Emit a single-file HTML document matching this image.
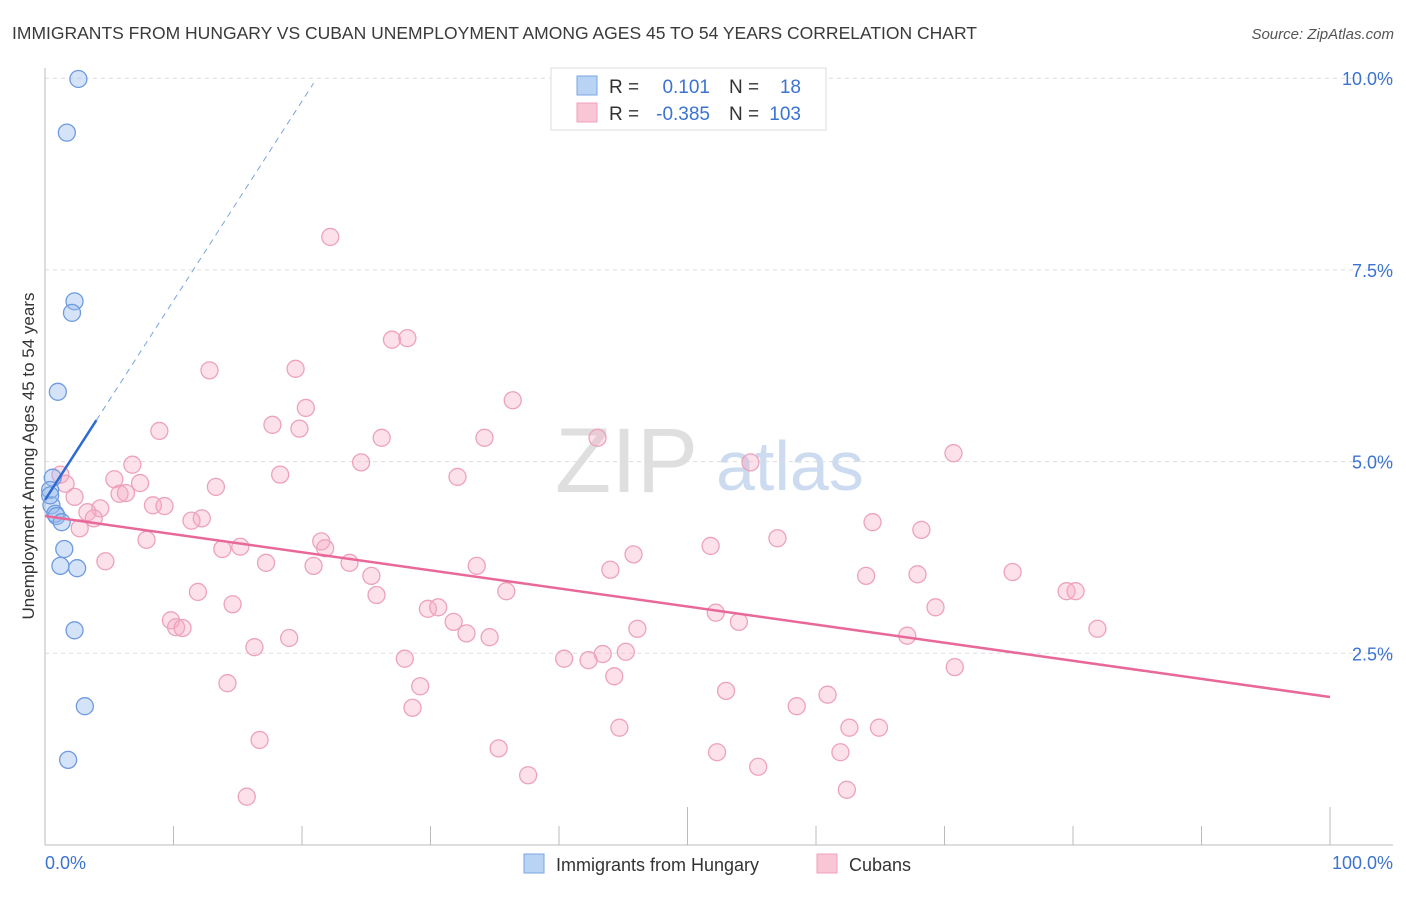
<!DOCTYPE html>
<html><head><meta charset="utf-8"><style>
body{margin:0;background:#fff;font-family:"Liberation Sans",sans-serif;}
svg text{font-family:"Liberation Sans",sans-serif;}
</style></head><body>
<svg width="1406" height="892" viewBox="0 0 1406 892" xmlns="http://www.w3.org/2000/svg" id="chart">
<text x="12" y="39" font-size="17.5" fill="#3a3a3a">IMMIGRANTS FROM HUNGARY VS CUBAN UNEMPLOYMENT AMONG AGES 45 TO 54 YEARS CORRELATION CHART</text>
<text x="1394" y="39" font-size="15" fill="#555" font-style="italic" text-anchor="end">Source: ZipAtlas.com</text>
<text x="555" y="492" font-size="92" font-family="Liberation Serif" fill="#d8d8d8" opacity="0.8">ZIP</text>
<text x="716" y="490" font-size="70" fill="#b8cdec" opacity="0.7">atlas</text>
<text transform="translate(34,456) rotate(-90)" font-size="17" fill="#333" text-anchor="middle">Unemployment Among Ages 45 to 54 years</text>
<g id="grid"></g><g id="axes"></g><g id="marks"></g>
<g>
<rect x="551" y="68" width="275" height="62" fill="#fff" stroke="#ddd"/>
<rect x="577" y="76" width="20" height="19" fill="#b9d3f5" stroke="#7aa6e3"/>
<rect x="577" y="103" width="20" height="19" fill="#f9c6d5" stroke="#eea0b8"/>
<text x="609" y="93" font-size="19" fill="#333">R =</text>
<text x="710" y="93" font-size="19" fill="#3b73d1" text-anchor="end">0.101</text>
<text x="729" y="93" font-size="19" fill="#333">N =</text>
<text x="801" y="93" font-size="19" fill="#3b73d1" text-anchor="end">18</text>
<text x="609" y="120" font-size="19" fill="#333">R =</text>
<text x="710" y="120" font-size="19" fill="#3b73d1" text-anchor="end">-0.385</text>
<text x="729" y="120" font-size="19" fill="#333">N =</text>
<text x="801" y="120" font-size="19" fill="#3b73d1" text-anchor="end">103</text>
</g>
<g>
<rect x="524" y="854" width="20" height="19" fill="#b9d3f5" stroke="#7aa6e3"/>
<text x="556" y="871" font-size="18" fill="#333">Immigrants from Hungary</text>
<rect x="817" y="854" width="20" height="19" fill="#f9c6d5" stroke="#eea0b8"/>
<text x="849" y="871" font-size="18" fill="#333">Cubans</text>
</g>
</svg>
<script>
const yTicks=[2.5,5,7.5,10];
const yTickLabels=["2.5%","5.0%","7.5%","10.0%"];
const xTicks=[0,10,20,30,40,50,60,70,80,90,100];
const blueX=[2.6,1.7,2.3,2.1,1.0,0.6,0.4,0.5,0.8,0.9,1.3,1.5,1.2,2.5,2.3,3.1,1.8,0.4];
const blueY=[9.99,9.29,7.09,6.94,5.91,4.79,4.63,4.43,4.32,4.29,4.21,3.86,3.64,3.61,2.80,1.81,1.11,4.56];
const pinkX=[22.2,27.0,28.2,12.8,19.5,20.3,36.4,17.7,19.8,8.9,26.2,34.2,43.0,70.7,54.9,24.6,6.8,18.3,32.1,1.2,5.4,7.4,1.6,13.3,5.8,6.3,2.3,8.4,9.3,4.3,3.3,12.2,3.8,11.4,64.4,68.2,2.7,7.9,21.5,57.0,13.8,15.2,21.8,51.8,45.8,4.7,17.2,23.7,20.9,33.6,44.0,75.3,67.9,63.9,25.4,11.9,35.9,25.8,79.5,80.2,14.6,29.8,30.6,69.3,52.2,9.8,31.8,54.0,10.2,10.7,46.1,81.9,32.8,34.6,19.0,67.1,16.3,45.2,43.4,28.0,40.4,42.3,70.8,44.3,14.2,29.2,53.0,60.9,58.5,28.6,44.7,62.6,64.9,16.7,35.3,52.3,61.9,55.5,37.6,62.4,15.7];
const pinkY=[7.93,6.59,6.61,6.19,6.21,5.70,5.80,5.48,5.43,5.40,5.31,5.31,5.31,5.11,4.99,4.99,4.96,4.83,4.80,4.83,4.77,4.72,4.71,4.67,4.58,4.59,4.54,4.43,4.42,4.39,4.34,4.26,4.26,4.23,4.21,4.11,4.13,3.98,3.96,4.00,3.86,3.89,3.87,3.90,3.79,3.70,3.68,3.68,3.64,3.64,3.59,3.56,3.53,3.51,3.51,3.30,3.31,3.26,3.31,3.31,3.14,3.08,3.10,3.10,3.03,2.93,2.91,2.91,2.84,2.83,2.82,2.82,2.76,2.71,2.70,2.73,2.58,2.52,2.49,2.43,2.43,2.41,2.32,2.20,2.11,2.07,2.01,1.96,1.81,1.79,1.53,1.53,1.53,1.37,1.26,1.21,1.21,1.02,0.91,0.72,0.63];
const pinkTrend=[4.29,1.93];
const blueTrend=[4.5,0.26];
const sx=v=>45+v*12.85, sy=v=>845-v*76.68;
const NS="http://www.w3.org/2000/svg";
function mk(parent,tag,attrs){const e=document.createElementNS(NS,tag);for(const k in attrs)e.setAttribute(k,attrs[k]);document.getElementById(parent).appendChild(e);return e;}
yTicks.forEach((t,i)=>{
 const g=mk('grid','line',{x1:45,x2:1393,y1:sy(t),y2:sy(t),stroke:'#ddd','stroke-dasharray':'4,4'});
 
 
 const l=mk('axes','text',{x:1393,y:sy(t)+7,'font-size':18,fill:'#3b73d1','text-anchor':'end'});
 l.textContent=yTickLabels[i];
 
 
});
const ya=mk('axes','line',{x1:45,x2:45,y1:68,y2:845,stroke:'#bbb'});


const xa=mk('axes','line',{x1:45,x2:1393,y1:845,y2:845,stroke:'#bbb'});


xTicks.forEach(t=>{
 const tk=mk('axes','line',{x1:sx(t),x2:sx(t),y1:(t===100||t===50)?807:826,y2:845,stroke:'#bbb'});
 
 
});
const x0=mk('axes','text',{x:45,y:869,'font-size':18,fill:'#3b73d1'});x0.textContent='0.0%';


const x1=mk('axes','text',{x:1393,y:869,'font-size':18,fill:'#3b73d1','text-anchor':'end'});x1.textContent='100.0%';


pinkX.forEach((x,i)=>{
 const c=mk('marks','circle',{cx:sx(x),cy:sy(pinkY[i]),r:8.5,fill:'rgba(246,170,195,0.35)',stroke:'#eda2bb','stroke-width':1.3});
 
 
});
blueX.forEach((x,i)=>{
 const c=mk('marks','circle',{cx:sx(x),cy:sy(blueY[i]),r:8.5,fill:'rgba(150,185,238,0.4)',stroke:'#6e9be0','stroke-width':1.3});
 
 
});
const pt=mk('marks','line',{x1:sx(0),y1:sy(pinkTrend[0]),x2:sx(100),y2:sy(pinkTrend[1]),stroke:'#e8689a','stroke-width':2.5});


const bt=mk('marks','line',{x1:sx(0),y1:sy(blueTrend[0]),x2:sx(4),y2:sy(blueTrend[0]+blueTrend[1]*4),stroke:'#2e6bd0','stroke-width':2.5});


const bd=mk('marks','line',{x1:sx(4),y1:sy(blueTrend[0]+blueTrend[1]*4),x2:sx(20.9),y2:sy(blueTrend[0]+blueTrend[1]*20.9),stroke:'#7aa3e0','stroke-width':1,'stroke-dasharray':'6,5'});


</script>
</body></html>
